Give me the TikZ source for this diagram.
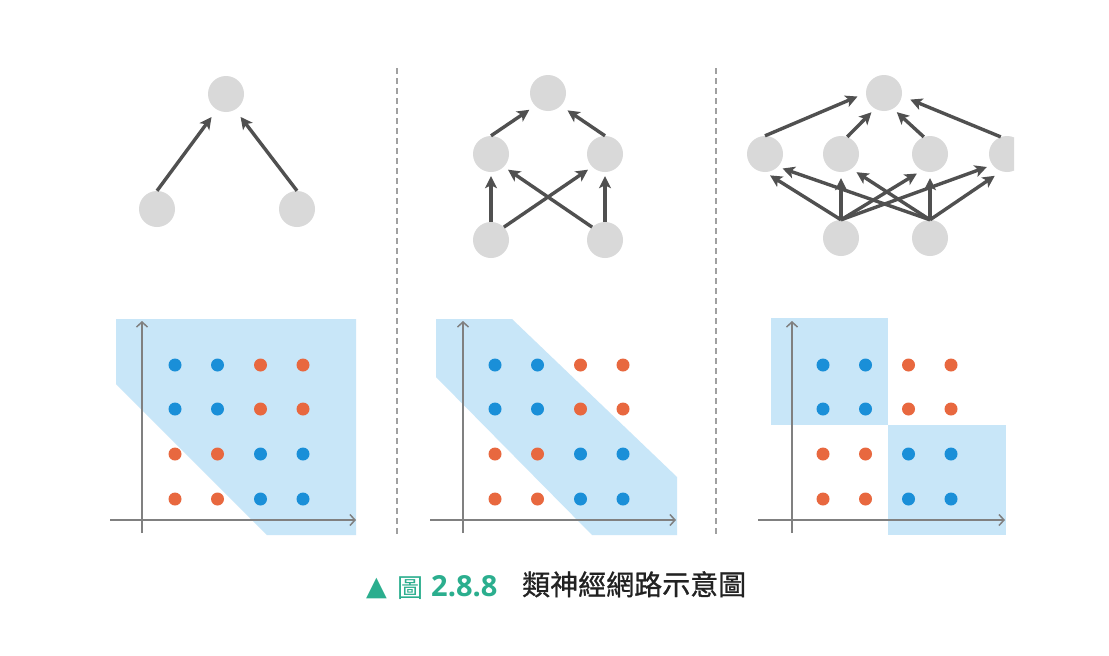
\documentclass[tikz,border=0pt]{standalone}
\usepackage{fontspec}
\newfontfamily\cjk{Noto Sans CJK TC}
\newfontfamily\cjkm[FakeBold=1]{Noto Sans CJK TC}
\newfontfamily\numfont{Open Sans}
\newfontfamily\symfont{DejaVu Sans}
\usetikzlibrary{arrows.meta}
\definecolor{nodegray}{HTML}{D9D9D9}
\definecolor{arrowgray}{HTML}{505050}
\definecolor{axisgray}{HTML}{808080}
\definecolor{sepgray}{HTML}{A0A0A0}
\definecolor{dotblue}{HTML}{1A8FD8}
\definecolor{dotorange}{HTML}{E8683F}
\definecolor{bandblue}{HTML}{C8E6F8}
\definecolor{capteal}{HTML}{2BAE8E}
\definecolor{captext}{HTML}{222222}
\tikzset{
  neuron/.style={circle, fill=nodegray, minimum size=36pt, inner sep=0pt},
  conn/.style={draw=arrowgray, line width=3.4pt, -{Stealth[length=12pt,width=12pt,inset=3pt]}},
  axisline/.style={draw=axisgray, line width=1.5pt, -{Straight Barb[length=5pt,width=11pt]}},
  dot/.style={circle, minimum size=13pt, inner sep=0pt},
  sepline/.style={draw=sepgray, line width=1.3pt, dash pattern=on 6pt off 4pt},
  band/.style={fill=bandblue, draw=none},
  capnode/.style={anchor=base west, inner sep=0pt}
}
\begin{document}
\begin{tikzpicture}[x=1pt,y=-1pt]
\useasboundingbox (0,0) rectangle (1109,656);
\fill[white] (0,0) rectangle (1109,656);

% separators
\coordinate (s1a) at (397,68); \coordinate (s1b) at (397,535);
\coordinate (s2a) at (716,68); \coordinate (s2b) at (716,535);
\draw[sepline] (s1a) -- (s1b);
\draw[sepline] (s2a) -- (s2b);

% ---------- left network ----------
\node[neuron] (A0) at (226,94) {};
\node[neuron] (A1) at (157,209) {};
\node[neuron] (A2) at (297,209) {};
\draw[conn, shorten >=9pt] (A1.north) -- (A0.240);
\draw[conn, shorten >=9pt] (A2.north) -- (A0.300);

% ---------- middle network ----------
\node[neuron] (B0) at (548,93) {};
\node[neuron] (B1) at (491,154) {};
\node[neuron] (B2) at (605,154) {};
\node[neuron] (B3) at (491,240) {};
\node[neuron] (B4) at (605,240) {};
\draw[conn, shorten >=7pt] (B1.north) -- (B0.south west);
\draw[conn, shorten >=8pt] (B2.north) -- (B0.south east);
\draw[conn, shorten >=4pt] (B3.north) -- (B1.south);
\draw[conn, shorten >=4pt] (B4.north) -- (B2.south);
\draw[conn, shorten >=5pt] (B3.north east) -- (B2.south west);
\draw[conn, shorten >=5pt] (B4.north west) -- (B1.south east);

% ---------- right network ----------
\begin{scope}
\clip (725,40) rectangle (1014,280);
\node[neuron] (C0) at (884,93) {};
\node[neuron] (M1) at (765,154) {};
\node[neuron] (M2) at (841,154) {};
\node[neuron] (M3) at (930,154) {};
\node[neuron] (M4) at (1007,154) {};
\node[neuron] (D1) at (841,238) {};
\node[neuron] (D2) at (930,238) {};
\draw[conn, shorten >=9pt] (M1.north) -- (C0.west);
\draw[conn, shorten >=5pt] (M2.70) -- (C0.240);
\draw[conn, shorten >=5pt] (M3.110) -- (C0.300);
\draw[conn, shorten >=9pt] (M4.110) -- (C0.350);
\draw[conn, shorten >=6pt] (D1.north) -- (M1.south);
\draw[conn, shorten >=6pt] (D1.north) -- (M2.south);
\draw[conn, shorten >=6pt] (D1.north) -- (M3.244);
\draw[conn, shorten >=6pt] (D1.north) -- (M4.217);
\draw[conn, shorten >=5pt] (D2.north) -- (M1.south east);
\draw[conn, shorten >=6pt] (D2.north) -- (M2.305);
\draw[conn, shorten >=6pt] (D2.north) -- (M3.south);
\draw[conn, shorten >=8pt] (D2.north) -- (M4.252);
\end{scope}

% ---------- bottom plots: regions ----------
\fill[band] (116,319) -- (356,319) -- (356,535) -- (267,535) -- (116,384) -- cycle;
\fill[band] (436,319) -- (512,319) -- (677,477) -- (677,535) -- (592,535) -- (436,377) -- cycle;
\fill[band] (771,318) rectangle (888,425);
\fill[band] (888,425) rectangle (1006,535);

% axes
\coordinate (Ly0) at (142,533); \coordinate (Ly1) at (142,321);
\coordinate (Lx0) at (110,520); \coordinate (Lx1) at (356,520);
\coordinate (My0) at (463,533); \coordinate (My1) at (463,321);
\coordinate (Mx0) at (430,520); \coordinate (Mx1) at (676,520);
\coordinate (Ry0) at (792,533); \coordinate (Ry1) at (792,321);
\coordinate (Rx0) at (758,520); \coordinate (Rx1) at (1005,520);
\draw[axisline] (Ly0) -- (Ly1);
\draw[axisline] (Lx0) -- (Lx1);
\draw[axisline] (My0) -- (My1);
\draw[axisline] (Mx0) -- (Mx1);
\draw[axisline] (Ry0) -- (Ry1);
\draw[axisline] (Rx0) -- (Rx1);

% dots
\foreach \p/\xo in {L/175, M/495, R/823} {
  \foreach \r/\y/\ca/\cb in {1/365/dotblue/dotorange, 2/409/dotblue/dotorange, 3/454/dotorange/dotblue, 4/499/dotorange/dotblue} {
    \foreach \c/\dx in {1/0, 2/42.5}
      \node[dot, fill=\ca] (P\p\r\c) at ({\xo+\dx},\y) {};
    \foreach \c/\dx in {3/85.5, 4/128}
      \node[dot, fill=\cb] (P\p\r\c) at ({\xo+\dx},\y) {};
  }
}

% caption
\node[capnode, text=capteal, font=\symfont\fontsize{27}{27}\selectfont] (tri) at (366,595) {▲};
\node[capnode, text=capteal, font=\cjk\fontsize{26}{26}\selectfont] (fig) at (397,597) {圖};
\node[capnode, text=capteal, font=\numfont\bfseries\fontsize{29}{29}\selectfont] (num) at (431,596) {2.8.8};
\node[capnode, text=captext, font=\cjkm\fontsize{28}{28}\selectfont] (title) at (522,595) {類神經網路示意圖};
\end{tikzpicture}
\end{document}
